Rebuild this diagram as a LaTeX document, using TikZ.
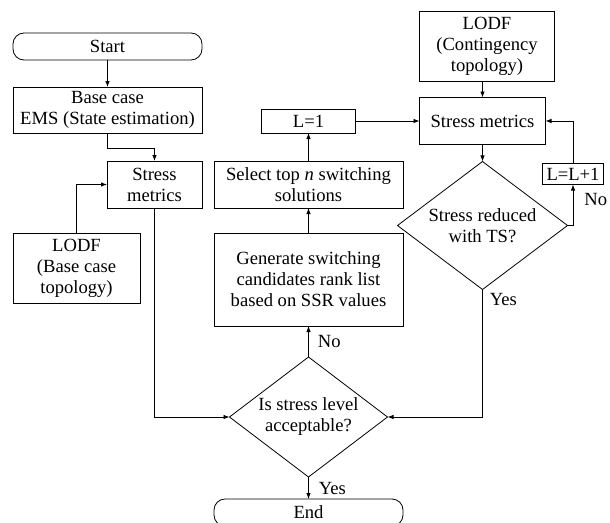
\documentclass[tikz,border=0pt]{standalone}
\usepackage{fontspec}
\setmainfont{Liberation Serif}
\usetikzlibrary{positioning}
\usetikzlibrary{shapes.geometric}
\usetikzlibrary{arrows.meta}
\tikzset{
  block/.style    = {shape=rectangle, draw, align=center,
                     inner sep=0pt, outer sep=0pt},
  terminal/.style = {block, rounded corners=11pt,
                     minimum width=189pt, minimum height=27pt},
  decision/.style = {shape=diamond, draw, align=center,
                     inner sep=-6pt, outer sep=0pt, aspect=1.33},
  answer/.style   = {inner sep=0pt}
}

\begin{document}
\begin{tikzpicture}
  [
    font       = \fontsize{18.6}{21}\selectfont,
    line width = 0.8pt,
    >          = {Latex[length=6pt,width=4.5pt]}
  ]
  \useasboundingbox (0,0) rectangle (610pt,-522pt);
  % left column
  \node [terminal] (start) at (107.5pt,-46.5pt) {Start};
  \node [block, minimum width=189pt, minimum height=46pt] (base) [below=27pt of start] {Base case\\EMS (State estimation)};
  \node [block, minimum width=95pt, minimum height=47pt] (metrics) [below=28pt of base.south east, anchor=north east] {Stress\\metrics};
  \node [block, minimum width=127pt, minimum height=70pt, anchor=north west] (lodfbase) at (13pt,-233pt) {LODF\\(Base case\\topology)};
  % middle column
  \node [block, minimum width=189pt, minimum height=47pt] (select) [right=12pt of metrics] {Select top \textit{n} switching\\solutions};
  \node [block, minimum width=94pt, minimum height=24pt] (lone) [above=28pt of select] {L=1};
  \node [block, minimum width=189pt, minimum height=93pt] (gen) [below=25pt of select] {Generate switching\\candidates rank list\\based on SSR values};
  \node [decision, minimum width=158pt, minimum height=120pt] (accept) [below=31pt of gen] {Is stress level\\acceptable?};
  \node [terminal] (end) [below=22pt of accept] {End};
  % right column
  \node [block, minimum width=126pt, minimum height=47pt] (metricsts) [right=64pt of lone] {Stress metrics};
  \node [block, minimum width=135pt, minimum height=70pt] (lodfcont) [above=16pt of metricsts.north west, anchor=south west] {LODF\\(Contingency\\topology)};
  \node [decision, minimum width=170pt, minimum height=128pt] (reduced) [below=17pt of metricsts] {Stress reduced\\with TS?};
  \node [block, minimum width=61pt, minimum height=21pt] (lnext) [above=41pt of reduced.east, xshift=5.5pt] {L=L+1};

  \draw [->] (start) -- (base);
  \draw [->] (base.south) -- ++(0,-15pt) -| (metrics.north);
  \draw [->] (lodfbase.north) |- (metrics.west);
  \draw [->] (metrics.south) |- (accept.west);
  \draw [->] (accept) -- node [answer, right=10pt] (yesend) {Yes} (end);
  \draw [->] (accept) -- node [answer, right=9pt] (nogen) {No} (gen);
  \draw [->] (gen) -- (select);
  \draw [->] (select) -- (lone);
  \draw [->] (lone) -- (metricsts);
  \draw [->] (metricsts.north |- lodfcont.south) -- (metricsts);
  \draw [->] (metricsts) -- (reduced);
  \draw [->] (reduced.east) -| node [answer, pos=0.82, right=11pt] (noloop) {No} (lnext.south);
  \draw [->] (lnext.north) |- (metricsts.east);
  \draw [->] (reduced.south) |- node [answer, pos=0.04, right=7pt] (yesback) {Yes} (accept.east);
\end{tikzpicture}
\end{document}
